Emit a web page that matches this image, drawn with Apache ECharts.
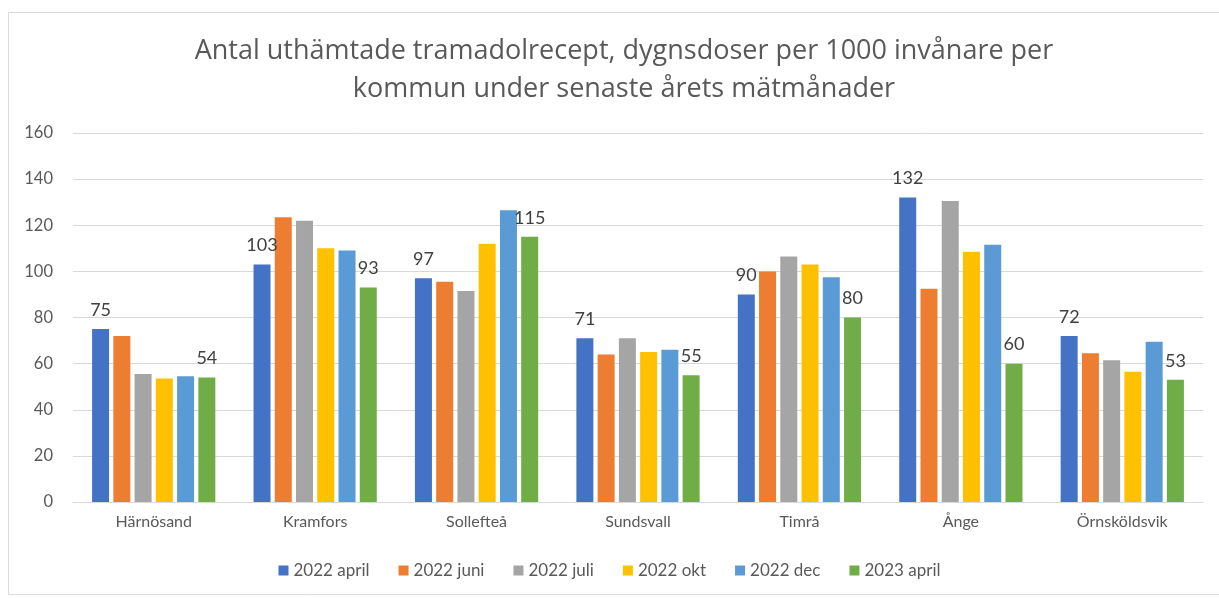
<!DOCTYPE html>
<html>
<head>
<meta charset="utf-8">
<script src="https://cdn.jsdelivr.net/npm/echarts@6/dist/echarts.min.js"></script>
<style>
  html, body { margin: 0; padding: 0; background: #fff; }
  #chart { width: 1219px; height: 598px; }
</style>
</head>
<body>
<div id="chart"></div>
<script>
const kommuner = ['Härnösand', 'Kramfors', 'Sollefteå', 'Sundsvall', 'Timrå', 'Ånge', 'Örnsköldsvik']
const seriesNames = ['2022 april', '2022 juni', '2022 juli', '2022 okt', '2022 dec', '2023 april']
const colors = ['#4472C4', '#ED7D31', '#A5A5A5', '#FFC000', '#5B9BD5', '#70AD47']

const apr2022 = [75, 103, 97, 71, 90, 132, 72]
const jun2022 = [72, 123.5, 95.5, 64, 100, 92.5, 64.5]
const jul2022 = [55.5, 122, 91.5, 71, 106.5, 130.5, 61.5]
const okt2022 = [53.5, 110, 112, 65, 103, 108.5, 56.5]
const dec2022 = [54.5, 109, 126.5, 66, 97.5, 111.5, 69.5]
const apr2023 = [54, 93, 115, 55, 80, 60, 53]

const yTicks = { min: 0, max: 160, interval: 20 }

const values = [apr2022, jun2022, jul2022, okt2022, dec2022, apr2023]
const labelled = [true, false, false, false, false, true]

const chart = echarts.init(document.getElementById('chart'))

const option = {
  animation: false,
  backgroundColor: '#fff',
  title: {
    text: 'Antal uthämtade tramadolrecept, dygnsdoser per 1000 invånare per\nkommun under senaste årets mätmånader',
    left: 619,
    textAlign: 'center',
    top: 27,
    textStyle: {
      color: '#595959',
      fontFamily: 'Open Sans',
      fontWeight: 'normal',
      fontSize: 27,
      lineHeight: 38
    }
  },
  graphic: [{
    type: 'rect',
    shape: { x: 8.5, y: 12.5, width: 1220, height: 582 },
    style: { fill: 'none', stroke: '#d9d9d9', lineWidth: 1 },
    silent: true
  }],
  legend: {
    bottom: 14,
    left: 'center',
    itemWidth: 10,
    itemHeight: 10,
    itemGap: 29,
    icon: 'rect',
    textStyle: { color: '#595959', fontFamily: 'Lato', fontSize: 17 },
    data: seriesNames
  },
  grid: {
    left: 73,
    right: 16,
    top: 133,
    bottom: 96
  },
  xAxis: {
    type: 'category',
    data: kommuner,
    axisTick: { show: false },
    axisLine: { lineStyle: { color: '#d9d9d9', width: 1 } },
    axisLabel: { color: '#595959', fontFamily: 'Lato', fontSize: 16, margin: 12 }
  },
  yAxis: {
    type: 'value',
    min: yTicks.min,
    max: yTicks.max,
    interval: yTicks.interval,
    axisLine: { show: false },
    axisTick: { show: false },
    splitLine: { lineStyle: { color: '#d9d9d9', width: 1 } },
    axisLabel: { color: '#595959', fontFamily: 'Lato', fontSize: 16.5, margin: 20 }
  },
  series: seriesNames.map((name, i) => ({
    name: name,
    type: 'bar',
    data: values[i],
    barWidth: 17,
    barGap: '25%',
    itemStyle: { color: colors[i] },
    label: {
      show: labelled[i],
      position: 'top',
      distance: 10,
      color: '#404040',
      fontFamily: 'Lato',
      fontSize: 18,
      formatter: (p) => Math.round(p.value)
    }
  }))
}

chart.setOption(option)
</script>
</body>
</html>
